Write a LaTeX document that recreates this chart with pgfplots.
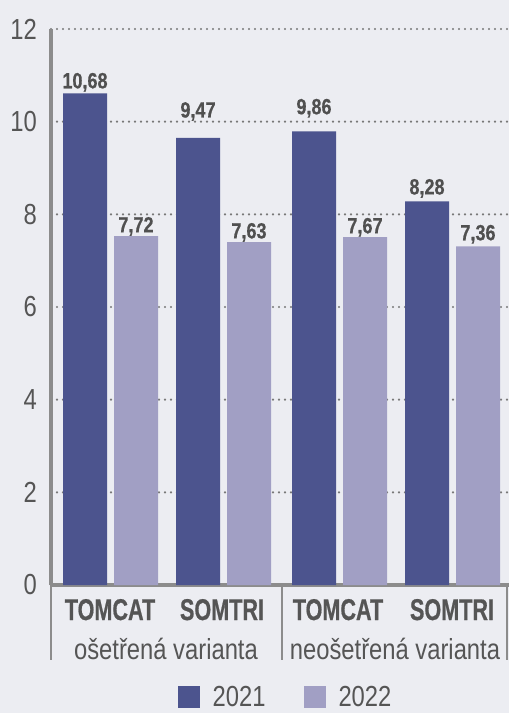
\documentclass[border=0pt]{standalone}
\usepackage{pgfplots}
\pgfplotsset{compat=1.18}
\usepackage{fontspec}
\setmainfont{Liberation Sans}[FakeStretch=0.82]
\newfontfamily\capsfont{Liberation Sans}[FakeStretch=0.72, BoldFeatures={FakeBold=0.6}]
\newfontfamily\valfont{Liberation Sans}[FakeStretch=0.82, BoldFeatures={FakeBold=0.6}]
\definecolor{bg}{RGB}{236,237,242}
\definecolor{c21}{RGB}{76,84,142}
\definecolor{c22}{RGB}{161,159,196}
\definecolor{txt}{RGB}{85,85,85}
\definecolor{txtb}{RGB}{80,80,80}
\definecolor{axc}{RGB}{140,140,140}
\definecolor{gridc}{RGB}{120,120,120}
\begin{document}
\begin{tikzpicture}
\fill[bg] (0,0) rectangle (509bp,713bp);
\path[use as bounding box] (0,0) rectangle (509bp,713bp);
\begin{axis}[
 at={(51bp,128bp)}, anchor=south west,
 scale only axis, width=458bp, height=556bp,
 xmin=51, xmax=509, ymin=0, ymax=12,
 axis x line*=bottom, axis y line*=left,
 axis line style={draw=axc, line width=3bp, -},
 ytick={0,2,...,12}, xtick={110,222,338,452},
 xticklabels={TOMCAT,SOMTRI,TOMCAT,SOMTRI},
 major tick length=0pt,
 ymajorgrids,
 grid style={draw=gridc, line width=2.4bp, line cap=round, dash pattern=on 0bp off 6bp},
 /pgf/number format/assume math mode=true,
 yticklabel style={anchor=east, inner sep=0pt, xshift=-14bp, font=\fontsize{29bp}{29bp}\selectfont, text=txt},
 xticklabel style={anchor=base, inner sep=0pt, yshift=-35bp, font=\capsfont\bfseries\fontsize{30bp}{30bp}\selectfont, text=txt},
 clip=false,
 legend columns=2,
 legend style={at={(axis cs:284.5,-2.42)}, anchor=center, draw=none, fill=none, inner sep=0pt,
   nodes={inner sep=0pt}, font=\fontsize{29bp}{29bp}\selectfont, text=txt,
   /tikz/every odd column/.append style={column sep=13bp},
   /tikz/every even column/.append style={column sep=38bp}},
 legend image code/.code={\fill[#1, draw=none] (0bp,-11bp) rectangle (22bp,11bp);},
]
\addplot[ybar, bar width=44, bar shift=0pt, fill=c21, draw=none]
  coordinates {(85,10.61) (198,9.65) (314,9.79) (427,8.28)};
\addlegendentry{2021}
\addplot[ybar, bar width=44, bar shift=0pt, fill=c22, draw=none]
  coordinates {(136,7.53) (249,7.40) (365,7.51) (478,7.31)};
\addlegendentry{2022}
\addplot[draw=none, mark=none, forget plot, nodes near coords, point meta=explicit symbolic,
  every node near coord/.append style={anchor=base, inner sep=0pt, yshift=0pt,
    font=\valfont\bfseries\fontsize{22bp}{22bp}\selectfont, text=txtb}]
  coordinates {(85,10.72) [10,68] (136,7.61) [7,72] (198,10.09) [9,47] (249,7.48) [7,63]
               (314,10.16) [9,86] (365,7.59) [7,67] (427,8.43) [8,28] (478,7.44) [7,36]};
\draw[axc, line width=1.2bp] (axis cs:51,0) -- (axis cs:51,-1.62);
\draw[axc, line width=1.2bp] (axis cs:282,0) -- (axis cs:282,-1.62);
\draw[axc, line width=1.2bp] (axis cs:507,0) -- (axis cs:507,-1.62);
\node[anchor=base, inner sep=0pt, text=txt, font=\fontsize{29bp}{29bp}\selectfont] at (axis cs:166,-1.618) {ošetřená varianta};
\node[anchor=base, inner sep=0pt, text=txt, font=\fontsize{29bp}{29bp}\selectfont] at (axis cs:395,-1.618) {neošetřená varianta};
\end{axis}
\end{tikzpicture}
\end{document}
